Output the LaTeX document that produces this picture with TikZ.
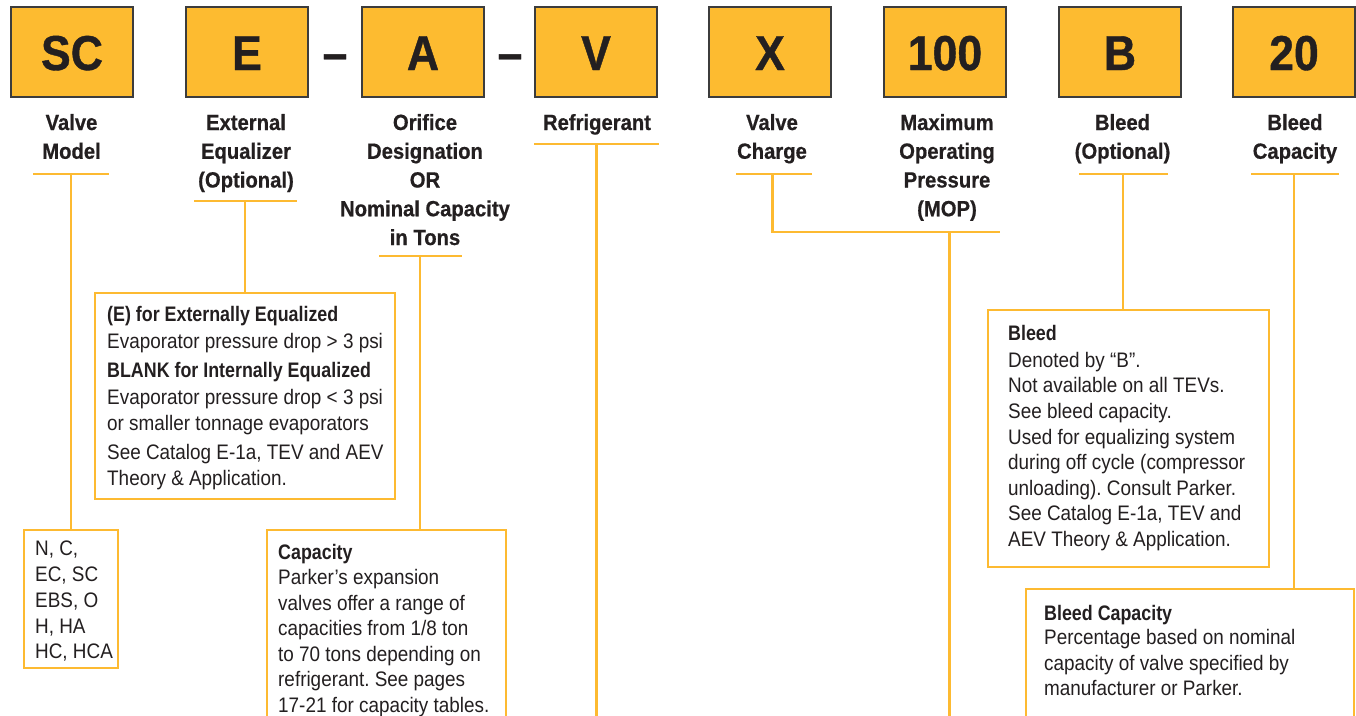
\documentclass[tikz,border=0pt]{standalone}
\usepackage{fontspec}
\setmainfont{Liberation Sans}
\newfontfamily\bodyfont{Liberation Sans}[FakeStretch=0.9]
\newfontfamily\headfont{Liberation Sans}[FakeStretch=0.85]
\newfontfamily\lblfont{Liberation Sans}[FakeStretch=0.92,FakeBold=0.6]
\newfontfamily\bigfont{Liberation Sans}[FakeStretch=0.91,FakeBold=0.8]
\definecolor{pyellow}{HTML}{FDBB30}
\definecolor{pline}{HTML}{FDBA31}
\definecolor{ink}{HTML}{231F20}
\definecolor{boxedge}{HTML}{3C3C3C}
\frenchspacing
\begin{document}
\begin{tikzpicture}[x=1pt,y=-1pt,
  codebox/.style={draw=boxedge, line width=1.3pt, fill=pyellow, minimum width=122pt, minimum height=90pt, inner sep=0pt, outer sep=0pt, anchor=north west},
  bigtxt/.style={anchor=base, inner sep=0pt, text=ink, font=\bigfont\bfseries\fontsize{49}{55}\selectfont},
  lbl/.style={anchor=base, inner sep=0pt, text=ink, font=\lblfont\bfseries\fontsize{22}{26}\selectfont},
  conn/.style={draw=pline, line width=2.8pt},
  detbox/.style={draw=pline, line width=2.8pt, inner sep=0pt, outer sep=0pt, anchor=north west},
  body/.style={anchor=base west, inner sep=0pt, text=ink, font=\bodyfont\fontsize{21}{25}\selectfont},
  bodyhead/.style={anchor=base west, inner sep=0pt, text=ink, font=\headfont\bfseries\fontsize{21}{25}\selectfont},
]
\useasboundingbox (0,0) rectangle (1356,715);
\fill[white] (0,0) rectangle (1356,715);
\clip (0,0) rectangle (1356,715);

% code boxes
\foreach \nm/\xx/\txt in {SC/11/SC, E/186/E, A/362/A, V/535/V, X/709/X, MOP/884/100, B/1059/B, BC/1233/20}{
  \node[codebox] (box\nm) at (\xx,7) {};
  \node[bigtxt] (big\nm) at ({\xx+61},70) {\txt};
}
\node[bigtxt] (dash1) at (335,70) {–};
\node[bigtxt] (dash2) at (510,70) {–};

% labels
\foreach \t [count=\i] in {Valve,Model}
  \node[lbl] (lSC\i) at (71.5,{130+28.75*(\i-1)}) {\t};
\foreach \t [count=\i] in {External,Equalizer,(Optional)}
  \node[lbl] (lE\i) at (246,{130+28.75*(\i-1)}) {\t};
\foreach \t [count=\i] in {Orifice,Designation,OR,Nominal Capacity,in Tons}
  \node[lbl] (lA\i) at (425,{130+28.75*(\i-1)}) {\t};
\node[lbl] (lV1) at (597,130) {Refrigerant};
\foreach \t [count=\i] in {Valve,Charge}
  \node[lbl] (lX\i) at (772,{130+28.75*(\i-1)}) {\t};
\foreach \t [count=\i] in {Maximum,Operating,Pressure,(MOP)}
  \node[lbl] (lM\i) at (947,{130+28.75*(\i-1)}) {\t};
\foreach \t [count=\i] in {Bleed,(Optional)}
  \node[lbl] (lB\i) at (1122.5,{130+28.75*(\i-1)}) {\t};
\foreach \t [count=\i] in {Bleed,Capacity}
  \node[lbl] (lBC\i) at (1295,{130+28.75*(\i-1)}) {\t};

% detail boxes
\node[detbox, minimum width=94pt, minimum height=138pt] (mbox) at (24,530) {};
\node[detbox, minimum width=300pt, minimum height=206pt] (ebox) at (95,293) {};
\node[detbox, minimum width=239pt, minimum height=200pt] (cbox) at (267,530) {};
\node[detbox, minimum width=281pt, minimum height=257pt] (bbox) at (988,310) {};
\node[detbox, minimum width=328pt, minimum height=150pt] (bcbox) at (1026,589) {};

% underlines and connectors
\coordinate (uSCa) at (33,174);   \coordinate (uSCb) at (109,174);  \coordinate (tSC) at (71,174);
\coordinate (uEa) at (194,201);   \coordinate (uEb) at (297,201);   \coordinate (tE) at (245,201);
\coordinate (uAa) at (379,256);   \coordinate (uAb) at (462,256);   \coordinate (tA) at (420,256);
\coordinate (uVa) at (534,144);   \coordinate (uVb) at (659,144);   \coordinate (tV) at (596.5,144);
\coordinate (uXa) at (736,174);   \coordinate (uXb) at (812,174);   \coordinate (tX) at (772.5,174);
\coordinate (uBa) at (1079,174);  \coordinate (uBb) at (1168,174);  \coordinate (tB) at (1123,174);
\coordinate (uBCa) at (1251,174); \coordinate (uBCb) at (1339,174); \coordinate (tBC) at (1294,174);
\coordinate (mopR) at (1000,232); \coordinate (tM) at (949.5,232);
\coordinate (vEnd) at (596.5,725); \coordinate (mEnd) at (949.5,725);

\draw[conn] (uSCa) -- (uSCb);
\draw[conn] (tSC) -- (tSC |- mbox.north);
\draw[conn] (uEa) -- (uEb);
\draw[conn] (tE) -- (tE |- ebox.north);
\draw[conn] (uAa) -- (uAb);
\draw[conn] (tA) -- (tA |- cbox.north);
\draw[conn] (uVa) -- (uVb);
\draw[conn] (tV) -- (vEnd);
\draw[conn] (uXa) -- (uXb);
\draw[conn] (tX) |- (mopR);
\draw[conn] (tM) -- (mEnd);
\draw[conn] (uBa) -- (uBb);
\draw[conn] (tB) -- (tB |- bbox.north);
\draw[conn] (uBCa) -- (uBCb);
\draw[conn] (tBC) -- (tBC |- bcbox.north);

% model box text
\foreach \t/\yy [count=\i] in {{N, C,}/555, {EC, SC}/581, {EBS, O}/607, {H, HA}/633, {HC, HCA}/658}
  \node[body] (mt\i) at (35,\yy) {\t};

% external equalizer box text
\node[bodyhead] (eh1) at (107,321.5) {(E) for Externally Equalized};
\node[body] (et1) at (107,348) {Evaporator pressure drop > 3 psi};
\node[bodyhead] (eh2) at (107,377) {BLANK for Internally Equalized};
\foreach \t/\yy [count=\i] in {{Evaporator pressure drop < 3 psi}/404, {or smaller tonnage evaporators}/430, {See Catalog E-1a, TEV and AEV}/459.5, {Theory \& Application.}/485.5}
  \node[body] (eb\i) at (107,\yy) {\t};

% capacity box text
\node[bodyhead] (ch) at (278,559) {Capacity};
\foreach \t/\yy [count=\i] in {{Parker’s expansion}/584.5, {valves offer a range of}/610, {capacities from 1/8 ton}/635.5, {to 70 tons depending on}/661, {refrigerant. See pages}/686.5, {17-21 for capacity tables.}/712}
  \node[body] (ct\i) at (278,\yy) {\t};

% bleed box text
\node[bodyhead] (bh) at (1008,340.7) {Bleed};
\foreach \t/\yy [count=\i] in {{Denoted by “B”.}/367.3, {Not available on all TEVs.}/392.7, {See bleed capacity.}/418.3, {Used for equalizing system}/444, {during off cycle (compressor}/469.3, {unloading). Consult Parker.}/495, {See Catalog E-1a, TEV and}/520.7, {AEV Theory \& Application.}/546}
  \node[body] (bt\i) at (1008,\yy) {\t};

% bleed capacity box text
\node[bodyhead] (bch) at (1044,620) {Bleed Capacity};
\foreach \t/\yy [count=\i] in {{Percentage based on nominal}/644.5, {capacity of valve specified by}/670, {manufacturer or Parker.}/695.5}
  \node[body] (bct\i) at (1044,\yy) {\t};
\end{tikzpicture}
\end{document}
